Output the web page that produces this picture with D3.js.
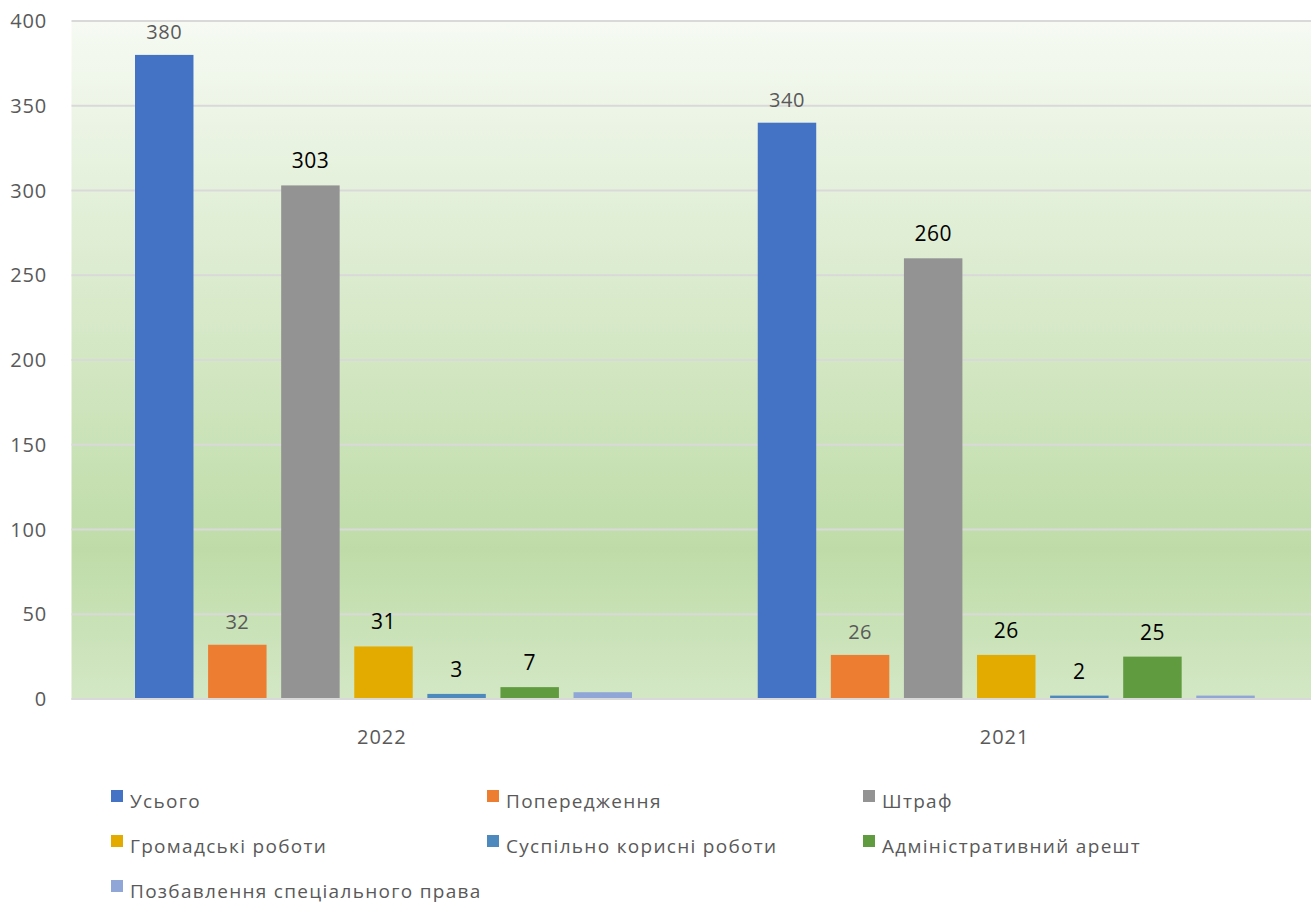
<!DOCTYPE html>
<html>
<head>
<meta charset="utf-8">
<script src="https://cdn.jsdelivr.net/npm/d3@7"></script>
<style>
  body { margin: 0; background: #fff; }
  svg { display: block; font-family: "Open Sans", "Noto Sans", sans-serif; }
</style>
</head>
<body>
<svg id="chart" width="1311" height="904"></svg>
<script>
// data
const years = ["2022", "2021"];
const seriesNames = ["Усього", "Попередження", "Штраф", "Громадські роботи",
  "Суспільно корисні роботи", "Адміністративний арешт", "Позбавлення спеціального права"];
const values2022 = [380, 32, 303, 31, 3, 7, 4];
const values2021 = [340, 26, 260, 26, 2, 25, 2];
const yTicks = [0, 50, 100, 150, 200, 250, 300, 350, 400];
// which labels are shown (last series has none) and which are dark
const showLabel = [true, true, true, true, true, true, false];
const darkLabel = [false, false, true, true, true, true, false];

const colors = ["#4472C4", "#ED7D31", "#939393", "#E3AB00", "#4E89BE", "#609B3F", "#8FA6D7"];

const svg = d3.select("#chart");
const plotL = 71.5, plotR = 1317, plotT = 21, plotB = 699;

const y = d3.scaleLinear().domain([0, 400]).range([plotB, plotT]);
const x0 = d3.scaleBand().domain(years).range([plotL, plotR]);
const x1 = d3.scaleBand().domain(d3.range(seriesNames.length))
  .range([63.5, 560.5]).paddingInner(0.2).paddingOuter(0);

// background gradient
const defs = svg.append("defs");
const grad = defs.append("linearGradient").attr("id", "bg")
  .attr("x1", 0).attr("y1", 0).attr("x2", 0).attr("y2", 1);
grad.append("stop").attr("offset", "0%").attr("stop-color", "#F6FAF3");
grad.append("stop").attr("offset", "78%").attr("stop-color", "#BFDCA8");
grad.append("stop").attr("offset", "100%").attr("stop-color", "#D3E7C5");

svg.append("rect")
  .attr("x", plotL).attr("y", plotT)
  .attr("width", plotR - plotL).attr("height", plotB - plotT)
  .attr("fill", "url(#bg)");

// gridlines
svg.append("g").selectAll("line")
  .data(yTicks)
  .enter().append("line")
  .attr("x1", plotL).attr("x2", plotR)
  .attr("y1", d => y(d)).attr("y2", d => y(d))
  .attr("stroke", "#D9D9D9").attr("stroke-width", 2);

// y tick labels
svg.append("g").selectAll("text")
  .data(yTicks)
  .enter().append("text")
  .attr("x", 47).attr("y", d => y(d) + 7)
  .attr("text-anchor", "end")
  .attr("font-size", 20).attr("fill", "#595959")
  .attr("letter-spacing", 0.8)
  .text(d => d);

// bars
const rows = years.map((yr, i) => ({ year: yr, vals: i === 0 ? values2022 : values2021 }));
const groups = svg.selectAll("g.grp")
  .data(rows)
  .enter().append("g")
  .attr("class", "grp")
  .attr("transform", d => `translate(${x0(d.year)},0)`);

groups.selectAll("rect")
  .data(d => d.vals)
  .enter().append("rect")
  .attr("x", (d, i) => x1(i))
  .attr("width", x1.bandwidth())
  .attr("y", d => y(d))
  .attr("height", d => plotB - y(d))
  .attr("fill", (d, i) => colors[i]);

groups.selectAll("text")
  .data(d => d.vals)
  .enter().append("text")
  .filter((d, i) => showLabel[i])
  .attr("x", (d, i) => x1(i) + x1.bandwidth() / 2)
  .attr("y", (d, i) => y(d) - (darkLabel[i] ? 17 : 16))
  .attr("text-anchor", "middle")
  .attr("font-size", (d, i) => darkLabel[i] ? 21 : 20)
  .attr("fill", (d, i) => darkLabel[i] ? "#000" : "#595959")
  .attr("letter-spacing", 0.5)
  .text(d => d);

// x axis line + labels
svg.append("line")
  .attr("x1", plotL).attr("x2", plotR)
  .attr("y1", plotB).attr("y2", plotB)
  .attr("stroke", "#D9D9D9").attr("stroke-width", 2);

svg.append("g").selectAll("text")
  .data(years)
  .enter().append("text")
  .attr("x", d => x0(d) + x0.bandwidth() / 2 - 1)
  .attr("y", 744)
  .attr("text-anchor", "middle")
  .attr("font-size", 20).attr("fill", "#595959")
  .attr("letter-spacing", 1)
  .text(d => d);

// legend
const legend = svg.append("g").selectAll("g")
  .data(seriesNames)
  .enter().append("g")
  .attr("transform", (d, i) => `translate(${111 + (i % 3) * 376},${801 + Math.floor(i / 3) * 45})`);

legend.append("rect")
  .attr("x", 0).attr("y", -11)
  .attr("width", 12).attr("height", 12)
  .attr("fill", (d, i) => colors[i]);

legend.append("text")
  .attr("x", 19).attr("y", 7)
  .attr("font-size", 19).attr("fill", "#595959")
  .attr("letter-spacing", 1.3)
  .text(d => d);
</script>
</body>
</html>
